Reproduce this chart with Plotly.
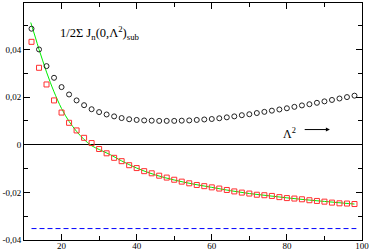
import plotly.graph_objects as go

# ---- data ----
circle_x = list(range(12, 100, 2))
circle_y = [0.0487, 0.0400, 0.0330, 0.0281, 0.0242, 0.0211, 0.0186, 0.0166, 0.0149, 0.0137,
            0.0127, 0.0119, 0.0112, 0.0107, 0.0104, 0.0102, 0.0101, 0.0100, 0.0100, 0.0100,
            0.0101, 0.0102, 0.0104, 0.0106, 0.0108, 0.0111, 0.0115, 0.0119, 0.0124, 0.0128,
            0.0133, 0.0138, 0.0143, 0.0148, 0.0153, 0.0159, 0.0165, 0.0170, 0.0176, 0.0182,
            0.0188, 0.0194, 0.0200, 0.0206]

square_x = list(range(12, 100, 2))
square_y = [0.0432, 0.0323, 0.0253, 0.0186, 0.0135, 0.0092, 0.0060, 0.0029, 0.0007, -0.0018,
            -0.0036, -0.0055, -0.0069, -0.0086, -0.0098, -0.0111, -0.0120, -0.0130, -0.0138, -0.0147,
            -0.0155, -0.0162, -0.0169, -0.0174, -0.0179, -0.0184, -0.0190, -0.0196, -0.0201, -0.0205,
            -0.0210, -0.0212, -0.0215, -0.0220, -0.0224, -0.0226, -0.0229, -0.0233, -0.0236, -0.0239,
            -0.0243, -0.0246, -0.0247, -0.0249]

line_x = [11.8, 13, 14, 15, 16, 17, 18, 20, 22, 24, 26, 28, 30, 33, 36, 40, 45, 50, 55, 60,
          65, 70, 75, 80, 85, 90, 95, 98]
line_y = [0.0513, 0.0452, 0.0400, 0.0352, 0.0305, 0.0262, 0.0222, 0.0152, 0.0098, 0.0056,
          0.0022, -0.0004, -0.0020, -0.0042, -0.0068, -0.0098, -0.0127, -0.0148, -0.0165, -0.0179,
          -0.0193, -0.0205, -0.0214, -0.0223, -0.0231, -0.0238, -0.0245, -0.0249]

dash_x = [12, 98.5]
dash_y = [-0.0352, -0.0352]

x_tickvals = [20, 40, 60, 80, 100]
x_ticktext = ["20", "40", "60", "80", "100"]
y_tickvals = [-0.04, -0.02, 0, 0.02, 0.04]
y_ticktext = ["-0,04", "-0,02", "0", "0,02", "0,04"]

FONT = "Liberation Serif"

fig = go.Figure()
fig.add_trace(go.Scatter(x=dash_x, y=dash_y, mode="lines",
                         line=dict(color="#0000ff", width=1, dash="5px,3px")))
fig.add_trace(go.Scatter(x=line_x, y=line_y, mode="lines", line_shape="spline",
                         line=dict(color="#00ee00", width=1)))
fig.add_trace(go.Scatter(x=square_x, y=square_y, mode="markers",
                         marker=dict(symbol="square-open", size=5, color="#ff3030",
                                     line=dict(width=1, color="#ff3030"))))
fig.add_trace(go.Scatter(x=circle_x, y=circle_y, mode="markers",
                         marker=dict(symbol="circle-open", size=5, color="#222222",
                                     line=dict(width=1, color="#222222"))))

fig.add_annotation(x=0.1015, y=0.872, xref="paper", yref="paper", xanchor="left", yanchor="middle",
                   text="1/2Σ J<sub>n</sub>(0,Λ<sup>2</sup>)<sub>sub</sub>", showarrow=False,
                   font=dict(family=FONT, size=12.5, color="black"))
fig.add_annotation(x=0.760, y=0.45, xref="paper", yref="paper", xanchor="left", yanchor="middle",
                   text="Λ<sup>2</sup>", showarrow=False,
                   font=dict(family=FONT, size=12, color="black"))
fig.add_annotation(x=0.905, y=0.466, ax=0.826, ay=0.466, xref="x domain", yref="y domain",
                   axref="x domain", ayref="y domain", text="", showarrow=True,
                   arrowhead=2, arrowsize=0.8, arrowwidth=1, arrowcolor="black")

axis_common = dict(showline=True, linecolor="black", linewidth=1, mirror="ticks",
                   ticks="inside", ticklen=6, tickwidth=1, tickcolor="black", automargin=False,
                   showgrid=False, tickfont=dict(family=FONT, size=9, color="black"))

fig.update_xaxes(range=[10, 100], tickvals=x_tickvals, ticktext=x_ticktext, zeroline=False,
                 ticklabelstandoff=-3,
                 minor=dict(ticks="inside", ticklen=4, tickvals=[30, 50, 70, 90],
                            tickcolor="black", tickwidth=1),
                 **axis_common)
fig.update_yaxes(range=[-0.04, 0.0595], tickvals=y_tickvals, ticktext=y_ticktext,
                 zeroline=True, zerolinecolor="black", zerolinewidth=1,
                 minor=dict(ticks="inside", ticklen=4, tickvals=[-0.03, -0.01, 0.01, 0.03, 0.05],
                            tickcolor="black", tickwidth=1),
                 **axis_common)

fig.update_layout(width=372, height=251, autosize=False,
                  margin=dict(l=24, r=10, t=3, b=11, pad=0),
                  plot_bgcolor="white", paper_bgcolor="white", showlegend=False)

fig.write_html("out.html", config={"displayModeBar": False},
               post_script="document.body.style.margin='0';document.body.style.overflow='hidden';")
